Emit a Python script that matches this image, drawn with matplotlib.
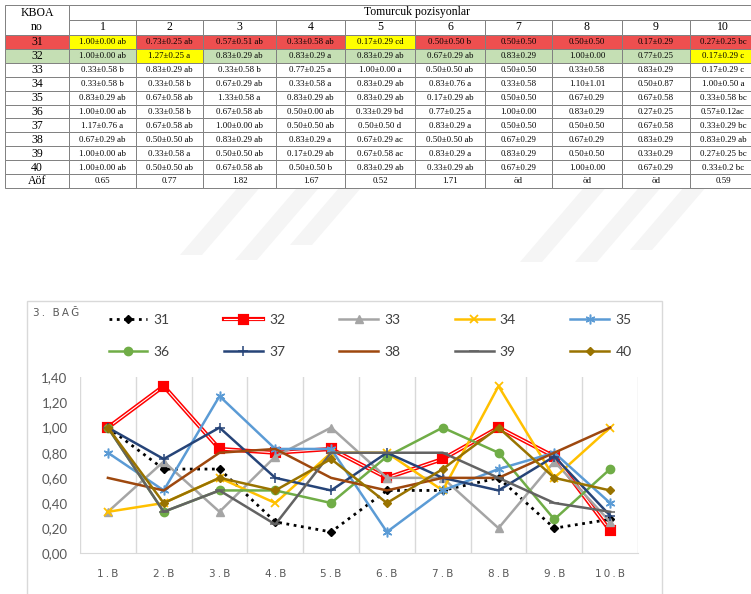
import numpy as np
import matplotlib
matplotlib.use('Agg')
import matplotlib.pyplot as plt
from matplotlib.patches import Rectangle, Polygon
import matplotlib.patheffects as pe

# ---- table data ----
row_labels = ['31', '32', '33', '34', '35', '36', '37', '38', '39', '40', 'Aöf']
col_labels = ['1', '2', '3', '4', '5', '6', '7', '8', '9', '10']
r31 = ['1.00±0.00 ab', '0.73±0.25 ab', '0.57±0.51 ab', '0.33±0.58 ab', '0.17±0.29 cd', '0.50±0.50 b', '0.50±0.50', '0.50±0.50', '0.17±0.29', '0.27±0.25 bc']
r32 = ['1.00±0.00 ab', '1.27±0.25 a', '0.83±0.29 ab', '0.83±0.29 a', '0.83±0.29 ab', '0.67±0.29 ab', '0.83±0.29', '1.00±0.00', '0.77±0.25', '0.17±0.29 c']
r33 = ['0.33±0.58 b', '0.83±0.29 ab', '0.33±0.58 b', '0.77±0.25 a', '1.00±0.00 a', '0.50±0.50 ab', '0.50±0.50', '0.33±0.58', '0.83±0.29', '0.17±0.29 c']
r34 = ['0.33±0.58 b', '0.33±0.58 b', '0.67±0.29 ab', '0.33±0.58 a', '0.83±0.29 ab', '0.83±0.76 a', '0.33±0.58', '1.10±1.01', '0.50±0.87', '1.00±0.50 a']
r35 = ['0.83±0.29 ab', '0.67±0.58 ab', '1.33±0.58 a', '0.83±0.29 ab', '0.83±0.29 ab', '0.17±0.29 ab', '0.50±0.50', '0.67±0.29', '0.67±0.58', '0.33±0.58 bc']
r36 = ['1.00±0.00 ab', '0.33±0.58 b', '0.67±0.58 ab', '0.50±0.00 ab', '0.33±0.29 bd', '0.77±0.25 a', '1.00±0.00', '0.83±0.29', '0.27±0.25', '0.57±0.12ac']
r37 = ['1.17±0.76 a', '0.67±0.58 ab', '1.00±0.00 ab', '0.50±0.50 ab', '0.50±0.50 d', '0.83±0.29 a', '0.50±0.50', '0.50±0.50', '0.67±0.58', '0.33±0.29 bc']
r38 = ['0.67±0.29 ab', '0.50±0.50 ab', '0.83±0.29 ab', '0.83±0.29 a', '0.67±0.29 ac', '0.50±0.50 ab', '0.67±0.29', '0.67±0.29', '0.83±0.29', '0.83±0.29 ab']
r39 = ['1.00±0.00 ab', '0.33±0.58 a', '0.50±0.50 ab', '0.17±0.29 ab', '0.67±0.58 ac', '0.83±0.29 a', '0.83±0.29', '0.50±0.50', '0.33±0.29', '0.27±0.25 bc']
r40 = ['1.00±0.00 ab', '0.50±0.50 ab', '0.67±0.58 ab', '0.50±0.50 b', '0.83±0.29 ab', '0.33±0.29 ab', '0.67±0.29', '1.00±0.00', '0.67±0.29', '0.33±0.2 bc']
r_aof = ['0.65', '0.77', '1.82', '1.67', '0.52', '1.71', 'öd', 'öd', 'öd', '0.59']

# ---- chart data ----
categories = ['1.B', '2.B', '3.B', '4.B', '5.B', '6.B', '7.B', '8.B', '9.B', '10.B']
s31 = [1.00, 0.67, 0.67, 0.25, 0.17, 0.50, 0.50, 0.60, 0.20, 0.27]
s32 = [1.00, 1.33, 0.83, 0.80, 0.83, 0.60, 0.75, 1.00, 0.77, 0.18]
s33 = [0.33, 0.73, 0.33, 0.77, 1.00, 0.60, 0.60, 0.20, 0.73, 0.25]
s34 = [0.33, 0.40, 0.60, 0.40, 0.80, 0.80, 0.50, 1.33, 0.60, 1.00]
s35 = [0.80, 0.50, 1.25, 0.83, 0.83, 0.17, 0.50, 0.67, 0.80, 0.40]
s36 = [1.00, 0.33, 0.50, 0.50, 0.40, 0.77, 1.00, 0.80, 0.27, 0.67]
s37 = [1.00, 0.75, 1.00, 0.60, 0.50, 0.80, 0.60, 0.50, 0.77, 0.30]
s38 = [0.60, 0.50, 0.80, 0.83, 0.60, 0.50, 0.60, 0.60, 0.80, 1.00]
s39 = [1.00, 0.33, 0.50, 0.23, 0.80, 0.80, 0.80, 0.60, 0.40, 0.33]
s40 = [1.00, 0.40, 0.60, 0.50, 0.75, 0.40, 0.67, 1.00, 0.60, 0.50]
y_ticks = [0.0, 0.2, 0.4, 0.6, 0.8, 1.0, 1.2, 1.4]

W, H = 751, 594
fig = plt.figure(figsize=(W / 100, H / 100), dpi=100)

# full-figure pixel canvas for table / frames
bg = fig.add_axes([0, 0, 1, 1])
bg.set_xlim(0, W)
bg.set_ylim(H, 0)
bg.axis('off')

# faint watermark stripes
for x0, y0 in [(180, 255), (235, 260), (290, 245), (520, 262), (575, 262), (630, 250)]:
    bg.add_patch(Polygon([(x0, y0), (x0 + 22, y0), (x0 + 95, y0 - 85), (x0 + 73, y0 - 85)],
                         closed=True, color='#f5f5f5', lw=0, zorder=0))

col_x = [5, 69, 136, 203, 276, 345, 415, 485, 552, 622, 690, 756]
hdr_y = [5, 20, 35]
row_h = 13.9
red, green, yellow = '#EE4F4F', '#C5DFB4', '#FFFF00'
fills = {0: [yellow, red, red, red, yellow, red, red, red, red, red],
         1: [green, yellow, green, green, green, green, green, green, green, yellow]}
label_fill = {0: red, 1: green}
rows = [r31, r32, r33, r34, r35, r36, r37, r38, r39, r40, r_aof]
serif = 'Liberation Serif'
lc = '#808080'

for i, (lab, vals) in enumerate(zip(row_labels, rows)):
    y0 = hdr_y[2] + i * row_h
    yc = y0 + row_h / 2
    bg.add_patch(Rectangle((col_x[0], y0), col_x[1] - col_x[0], row_h,
                           facecolor=label_fill.get(i, 'white'), edgecolor=lc, lw=0.7, zorder=2))
    bg.text((col_x[0] + col_x[1]) / 2, yc + 0.5, lab, ha='center', va='center',
            family=serif, fontsize=8.5, zorder=3)
    for j, v in enumerate(vals):
        fc = fills[i][j] if i in fills else 'white'
        bg.add_patch(Rectangle((col_x[j + 1], y0), col_x[j + 2] - col_x[j + 1], row_h,
                               facecolor=fc, edgecolor=lc, lw=0.7, zorder=2))
        bg.text((col_x[j + 1] + col_x[j + 2]) / 2, yc + 0.5, v, ha='center', va='center',
                family=serif, fontsize=6.3, zorder=3)

# header
bg.add_patch(Rectangle((col_x[0], hdr_y[0]), col_x[1] - col_x[0], hdr_y[2] - hdr_y[0],
                       facecolor='white', edgecolor=lc, lw=0.7, zorder=2))
bg.text((col_x[0] + col_x[1]) / 2, 12.5, 'KBOA', ha='center', va='center', family=serif, fontsize=8.5, zorder=3)
bg.text((col_x[0] + col_x[1]) / 2, 27.5, 'no', ha='center', va='center', family=serif, fontsize=8.5, zorder=3)
bg.add_patch(Rectangle((col_x[1], hdr_y[0]), col_x[-1] - col_x[1], hdr_y[1] - hdr_y[0],
                       facecolor='white', edgecolor=lc, lw=0.7, zorder=2))
bg.text((col_x[1] + col_x[-1]) / 2 + 4, 12.5, 'Tomurcuk pozisyonlar', ha='center', va='center',
        family=serif, fontsize=8.5, zorder=3)
for j, c in enumerate(col_labels):
    bg.add_patch(Rectangle((col_x[j + 1], hdr_y[1]), col_x[j + 2] - col_x[j + 1], hdr_y[2] - hdr_y[1],
                           facecolor='white', edgecolor=lc, lw=0.7, zorder=2))
    bg.text((col_x[j + 1] + col_x[j + 2]) / 2, 27.5, c, ha='center', va='center',
            family=serif, fontsize=8.5, zorder=3)

# chart area frame
bg.add_patch(Rectangle((27, 301), 635, 310, facecolor='white', edgecolor='#d9d9d9', lw=1.0, zorder=1))
sp = '\u2009'
bg.text(33, 313, sp.join('3. BAĞ'), ha='left', va='center', fontsize=7.5, color='#595959',
        family='DejaVu Sans', zorder=3)

# ---- line chart ----
ax = fig.add_axes([80 / W, 1 - 553.3 / H, (638 - 80) / W, (553.3 - 377.3) / H])
ax.set_facecolor('none')
x = np.arange(1, len(categories) + 1)

styles = [
    ('31', s31, dict(color='black', ls=':', lw=2.0, marker='D', ms=4.5)),
    ('32', s32, dict(color='white', lw=0.8, marker='s', ms=5, mfc='red', mec='red',
                     path_effects=[pe.Stroke(linewidth=3.0, foreground='red'), pe.Normal()])),
    ('33', s33, dict(color='#A5A5A5', lw=1.8, marker='^', ms=6)),
    ('34', s34, dict(color='#FFC000', lw=1.8, marker='x', ms=6, mew=1.3)),
    ('35', s35, dict(color='#5B9BD5', lw=1.8, marker=(6, 2, 0), ms=7, mew=1.1)),
    ('36', s36, dict(color='#70AD47', lw=1.8, marker='o', ms=6)),
    ('37', s37, dict(color='#264478', lw=1.8, marker='+', ms=7, mew=1.1)),
    ('38', s38, dict(color='#9E480E', lw=1.8)),
    ('39', s39, dict(color='#636363', lw=1.8, marker='_', ms=7, mew=1.1)),
    ('40', s40, dict(color='#997300', lw=1.8, marker='D', ms=4.5)),
]
handles = {}
for name, vals, kw in styles:
    h, = ax.plot(x, vals, label=name, **kw)
    handles[name] = h

ax.set_xlim(0.5, len(categories) + 0.5)
ax.set_ylim(0, 1.4)
ax.set_xticks(x)
ax.set_xticklabels([sp.join(c) for c in categories], fontsize=7.5, color='#595959', family='DejaVu Sans')
ax.set_yticks(y_ticks)
ax.set_yticklabels(['{:.2f}'.format(v).replace('.', ',') for v in y_ticks],
                   fontsize=9.5, color='#595959', family='Lato')
ax.tick_params(length=0)
ax.tick_params(axis='x', pad=11)
ax.tick_params(axis='y', pad=9)
for s in ['top', 'left', 'right']:
    ax.spines[s].set_visible(False)
ax.spines['bottom'].set_color('#d9d9d9')
for b in np.arange(0.5, len(categories) + 1.0, 1.0):
    ax.axvline(b, color='#d9d9d9', lw=1.0, zorder=0)

order = ['31', '36', '32', '37', '33', '38', '34', '39', '35', '40']
fig.legend([handles[k] for k in order], order, loc='center', ncol=5,
           bbox_to_anchor=(370 / W, 1 - 336 / H), frameon=False, borderpad=0,
           handlelength=2.8, handletextpad=0.45, columnspacing=3.9, labelspacing=1.45,
           prop={'family': 'Lato', 'size': 10}, labelcolor='#404040')

fig.savefig('out.png', dpi=100)
